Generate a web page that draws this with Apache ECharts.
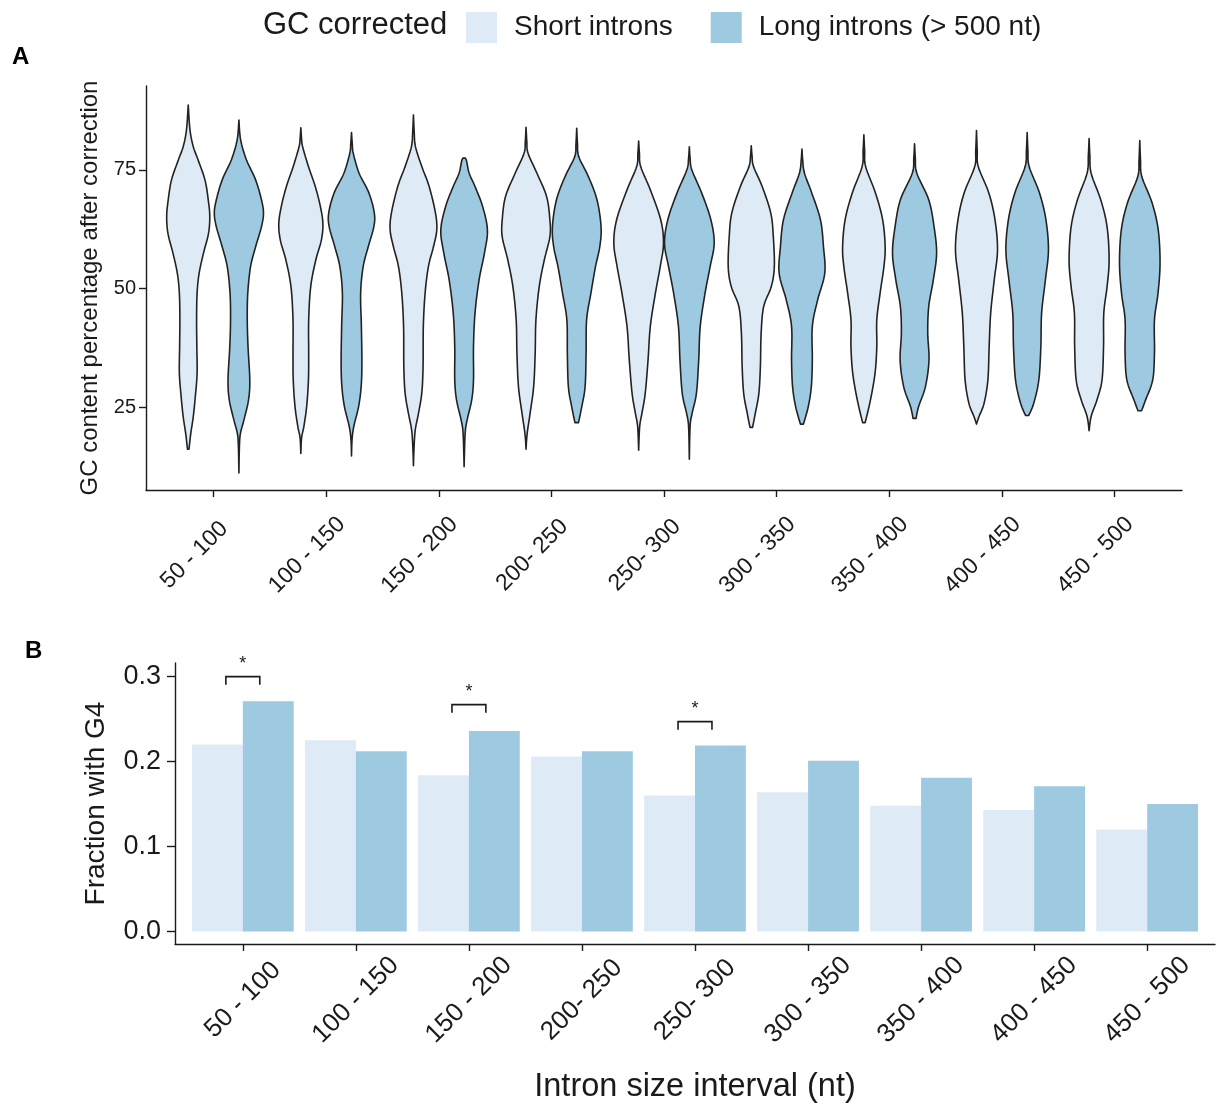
<!DOCTYPE html>
<html><head><meta charset="utf-8">
<script src="https://cdn.jsdelivr.net/npm/echarts@6/dist/echarts.min.js"></script>
<style>html,body{margin:0;padding:0;background:#fff}#c{width:1216px;height:1106px}</style>
</head><body><div id="c"></div>
<script>
// ---------- DATA ----------
const categories = ['50 - 100','100 - 150','150 - 200','200- 250','250- 300','300 - 350','350 - 400','400 - 450','450 - 500'];
const seriesNames = ['Short introns','Long introns (> 500 nt)'];
const gcTicks = [25, 50, 75];
const g4Ticks = [0, 0.1, 0.2, 0.3];

// Panel B: fraction with G4
const g4Short = [0.220, 0.225, 0.184, 0.206, 0.160, 0.164, 0.148, 0.143, 0.120];
const g4Long  = [0.271, 0.212, 0.236, 0.212, 0.219, 0.201, 0.181, 0.171, 0.150];

// significance brackets
const sigCategories = ['50 - 100', '150 - 200', '250- 300'];
const sigHeights = [0.300, 0.267, 0.247];
const sigLabels = ['*', '*', '*'];

// Panel A: violin profiles, [GC %, relative density (1 = full half-slot)] from top to bottom
const violinShort = [
  [[88.7,0],[83.4,0.07],[79.9,0.2],[77.1,0.39],[72.9,0.66],[68.7,0.79],[65.2,0.85],[61.6,0.8],[57.4,0.6],[53.2,0.43],[49,0.35],[43.4,0.33],[37.7,0.34],[32.1,0.35],[27.2,0.28],[23,0.2],[19.4,0.1],[16.1,0.03]],
  [[83.9,0],[81.5,0.03],[79.9,0.07],[75.7,0.3],[71.5,0.57],[67.3,0.77],[63.7,0.87],[60.2,0.81],[56,0.59],[50.4,0.39],[43.4,0.31],[36.3,0.31],[30.7,0.3],[25.1,0.23],[20.9,0.12],[18.5,0.03],[15.2,0]],
  [[86.6,0],[83,0.03],[79.9,0.08],[75.7,0.33],[71.5,0.62],[65.9,0.87],[62.3,0.92],[58.8,0.79],[54.6,0.59],[49,0.46],[42,0.39],[33.6,0.38],[28,0.33],[23.7,0.2],[20.1,0.07],[16,0.02],[12.6,0]],
  [[84,0],[81,0.03],[78.5,0.08],[74.3,0.43],[69.4,0.81],[64.5,0.94],[60.9,0.94],[56,0.72],[50.4,0.52],[43.4,0.39],[36.3,0.36],[29.3,0.3],[23.7,0.16],[20.1,0.06],[18,0.02],[16.1,0]],
  [[81.1,0],[78.5,0.03],[75.7,0.08],[70.8,0.46],[64.5,0.87],[59.5,0.98],[54.6,0.85],[49,0.66],[42,0.46],[34.9,0.37],[27.9,0.26],[23.7,0.13],[20.9,0.04],[15.9,0]],
  [[80.1,0],[78,0.03],[75.7,0.09],[71.5,0.43],[65.9,0.77],[60.9,0.87],[54.6,0.91],[50.4,0.79],[46.2,0.49],[40.6,0.39],[33.6,0.36],[27.9,0.3],[23.7,0.16],[20.7,0.05]],
  [[82.4,0],[79,0.03],[75.7,0.07],[70.1,0.46],[64.5,0.74],[58.8,0.84],[54.6,0.79],[49,0.64],[43.4,0.51],[37.7,0.51],[32.1,0.44],[26.5,0.26],[21.7,0.05]],
  [[83.3,0],[79,0.03],[75.7,0.07],[70.1,0.49],[64.5,0.73],[58.1,0.83],[51.8,0.7],[44.8,0.56],[37.7,0.5],[30.7,0.45],[25.8,0.3],[23,0.1],[21.4,0]],
  [[81.6,0],[78,0.03],[74.3,0.08],[68.7,0.46],[63,0.71],[56,0.79],[50.4,0.71],[44.8,0.58],[37.7,0.57],[30.7,0.51],[26.5,0.31],[23,0.08],[20,0]]
];
const violinLong = [
  [[85.5,0],[81.3,0.07],[77.1,0.3],[72.9,0.66],[68.7,0.89],[65.9,0.97],[63,0.89],[58.8,0.66],[54.6,0.46],[49,0.35],[43.4,0.33],[37.7,0.36],[30.7,0.43],[26.5,0.38],[22.3,0.2],[19.4,0.06],[16.6,0.02],[11.1,0]],
  [[82.9,0],[80.5,0.03],[78.5,0.07],[74.3,0.3],[70.1,0.69],[65.9,0.9],[63,0.88],[58.8,0.66],[54.6,0.46],[49,0.36],[42,0.39],[34.3,0.41],[29.3,0.38],[25.1,0.28],[20.9,0.09],[18,0.02],[14.7,0]],
  [[77.5,0.05],[76.8,0.1],[74.3,0.2],[71.5,0.43],[67.3,0.73],[62.3,0.92],[57.4,0.8],[51.8,0.59],[44.8,0.43],[37.7,0.37],[30.7,0.37],[26.5,0.3],[22.3,0.12],[19.4,0.04],[12.4,0]],
  [[83.8,0],[80.5,0.03],[77.8,0.08],[73.6,0.46],[68.7,0.8],[63,0.96],[58.8,0.91],[54.6,0.74],[49,0.56],[43.4,0.39],[36.3,0.37],[29.3,0.33],[25.1,0.2],[21.7,0.07]],
  [[79.9,0],[77.5,0.03],[75,0.1],[70.1,0.49],[64.5,0.85],[59.5,0.98],[54.6,0.82],[49,0.62],[42,0.43],[34.9,0.37],[27.9,0.28],[23.7,0.11],[20.9,0.03],[14,0]],
  [[79.4,0],[77,0.03],[74.3,0.1],[70.1,0.39],[64.5,0.73],[58.8,0.85],[53.2,0.9],[47.6,0.62],[42,0.41],[34.9,0.41],[29.3,0.37],[25.1,0.25],[21.4,0.06]],
  [[80.5,0],[77.5,0.03],[74.3,0.09],[68.7,0.56],[63,0.77],[57.4,0.87],[51.8,0.74],[46.2,0.56],[40.6,0.52],[34.9,0.57],[29.3,0.43],[25.1,0.16],[22.6,0.06]],
  [[82.9,0],[79,0.03],[75.7,0.08],[70.1,0.49],[64.5,0.74],[58.1,0.84],[51.8,0.72],[44.8,0.57],[37.7,0.54],[30.7,0.46],[25.8,0.26],[23.2,0.06]],
  [[81.2,0],[77,0.03],[73.6,0.08],[68,0.49],[62.3,0.73],[55.3,0.8],[49,0.72],[43.4,0.58],[36.3,0.58],[30.7,0.51],[26.5,0.23],[24.2,0.07]]
];

// ---------- STYLE ----------
const FONT = '"Liberation Sans", Arial, Helvetica, sans-serif';
const C_SHORT = '#deebf7';
const C_LONG_FILL = '#9ecae1';
const INK = '#1a1a1a';
const DODGE = 0.45;           // width of one dodged element in category units
const catPos = categories.map((c, i) => i + 1);

function catmull(pts, steps) {
  const out = [];
  const n = pts.length;
  for (let i = 0; i < n - 1; i++) {
    const p0 = pts[Math.max(i - 1, 0)], p1 = pts[i], p2 = pts[i + 1], p3 = pts[Math.min(i + 2, n - 1)];
    for (let s = 0; s < steps; s++) {
      const t = s / steps, t2 = t * t, t3 = t2 * t;
      const f = k => 0.5 * (2 * p1[k] + (-p0[k] + p2[k]) * t + (2 * p0[k] - 5 * p1[k] + 4 * p2[k] - p3[k]) * t2 + (-p0[k] + 3 * p1[k] - 3 * p2[k] + p3[k]) * t3);
      out.push([f(0), f(1)]);
    }
  }
  out.push(pts[n - 1]);
  return out;
}

function violinRenderer(profiles, side, fill) {
  return function (params, api) {
    const prof = profiles[params.dataIndex];
    const xc = api.value(0) + side * DODGE / 2;
    const cx = api.coord([xc, 50])[0];
    const half = DODGE / 2;
    const rightPts = prof.map(p => api.coord([xc + p[1] * half, p[0]]));
    const leftPts = prof.map(p => api.coord([xc - p[1] * half, p[0]]));
    let right = catmull(rightPts, 8).map(p => [Math.max(p[0], cx), p[1]]);
    let left = catmull(leftPts, 8).map(p => [Math.min(p[0], cx), p[1]]);
    if (prof[0][1] === 0) left = left.slice(1);
    if (prof[prof.length - 1][1] === 0) left = left.slice(0, left.length - 1);
    left.reverse();
    return {
      type: 'polygon',
      shape: { points: right.concat(left) },
      style: { fill: fill, stroke: '#222', lineWidth: 1.6, lineJoin: 'round' }
    };
  };
}

function barRenderer(side, fill) {
  return function (params, api) {
    const x = api.value(0), v = api.value(1);
    const x0 = side < 0 ? x - DODGE : x;
    const p1 = api.coord([x0, v]);
    const p2 = api.coord([x0 + DODGE, 0]);
    return { type: 'rect', shape: { x: p1[0], y: p1[1], width: p2[0] - p1[0], height: p2[1] - p1[1] }, style: { fill: fill } };
  };
}

function bracketRenderer(params, api) {
  const x = api.value(0), y = api.value(1);
  const a = api.coord([x - 0.15, y]);
  const b = api.coord([x + 0.15, y]);
  const leg = api.coord([x, y - 0.0095])[1];
  return {
    type: 'group',
    children: [
      { type: 'polyline', shape: { points: [[a[0], leg], [a[0], a[1]], [b[0], b[1]], [b[0], leg]] },
        style: { stroke: INK, lineWidth: 1.6, fill: null } },
      { type: 'text', x: (a[0] + b[0]) / 2, y: a[1] - 13,
        style: { text: sigLabels[params.dataIndex], fill: INK, fontSize: 18, fontFamily: FONT, align: 'center', verticalAlign: 'middle' } }
    ]
  };
}

const axisLineStyle = { color: INK, width: 1.4 };

const option = {
  animation: false,
  backgroundColor: '#fff',
  textStyle: { fontFamily: FONT },
  legend: {
    left: 466, top: 12, padding: 0,
    itemWidth: 31, itemHeight: 31, itemGap: 38,
    icon: 'rect', selectedMode: false,
    textStyle: { fontSize: 28, color: INK, fontFamily: FONT, padding: [0, 0, 0, 12] },
    data: [
      { name: seriesNames[0], itemStyle: { color: C_SHORT, borderWidth: 0 } },
      { name: seriesNames[1], itemStyle: { color: C_LONG_FILL, borderWidth: 0 } }
    ]
  },
  graphic: [
    { type: 'text', left: 263, top: 10, style: { text: 'GC corrected', fontSize: 31, fill: INK, fontFamily: FONT } },
    { type: 'text', left: 12, top: 45, style: { text: 'A', fontSize: 24, fontWeight: 'bold', fill: '#000', fontFamily: FONT } },
    { type: 'text', left: 25, top: 639, style: { text: 'B', fontSize: 24, fontWeight: 'bold', fill: '#000', fontFamily: FONT } }
  ],
  grid: [
    { left: 146, right: 34, top: 86, height: 404 },
    { left: 175, right: 1, top: 663, height: 281 }
  ],
  xAxis: [
    {
      gridIndex: 0, type: 'value', min: 0.4, max: 9.6,
      splitLine: { show: false },
      axisLine: { show: true, onZero: false, lineStyle: axisLineStyle },
      axisTick: { show: true, customValues: catPos, length: 7, lineStyle: axisLineStyle },
      axisLabel: {
        customValues: catPos, formatter: v => categories[Math.round(v) - 1],
        rotate: 45, fontSize: 23, color: INK, fontFamily: FONT,
        align: 'center', verticalAlign: 'middle', margin: 46, padding: [0, 54, 0, 0]
      }
    },
    {
      gridIndex: 1, type: 'value', min: 0.4, max: 9.6,
      name: 'Intron size interval (nt)', nameLocation: 'middle', nameGap: 143,
      nameTextStyle: { fontSize: 32.5, color: INK, fontFamily: FONT, verticalAlign: 'middle' },
      splitLine: { show: false },
      axisLine: { show: true, onZero: false, lineStyle: axisLineStyle },
      axisTick: { show: true, customValues: catPos, length: 7, lineStyle: axisLineStyle },
      axisLabel: {
        customValues: catPos, formatter: v => categories[Math.round(v) - 1],
        rotate: 45, fontSize: 26, color: INK, fontFamily: FONT,
        align: 'center', verticalAlign: 'middle', margin: 56
      }
    }
  ],
  yAxis: [
    {
      gridIndex: 0, type: 'value', min: 7.5, max: 92.7,
      name: 'GC content percentage after correction', nameLocation: 'middle', nameGap: 54, nameRotate: 90,
      nameTextStyle: { fontSize: 24, color: INK, fontFamily: FONT, verticalAlign: 'middle' },
      splitLine: { show: false },
      axisLine: { show: true, onZero: false, lineStyle: axisLineStyle },
      axisTick: { show: true, customValues: gcTicks, length: 7, lineStyle: axisLineStyle },
      axisLabel: { customValues: gcTicks, fontSize: 20, color: INK, fontFamily: FONT, margin: 10 }
    },
    {
      gridIndex: 1, type: 'value', min: -0.0147, max: 0.316,
      name: 'Fraction with G4', nameLocation: 'middle', nameGap: 79, nameRotate: 90,
      nameTextStyle: { fontSize: 28, color: INK, fontFamily: FONT, verticalAlign: 'middle' },
      splitLine: { show: false },
      axisLine: { show: true, onZero: false, lineStyle: axisLineStyle },
      axisTick: { show: true, customValues: g4Ticks, length: 8, lineStyle: axisLineStyle },
      axisLabel: { customValues: g4Ticks, formatter: v => v.toFixed(1), fontSize: 27, color: INK, fontFamily: FONT, margin: 14 }
    }
  ],
  series: [
    { type: 'custom', name: seriesNames[0], xAxisIndex: 0, yAxisIndex: 0, clip: false,
      itemStyle: { color: C_SHORT }, data: catPos.map(x => [x]), encode: { x: 0 },
      renderItem: violinRenderer(violinShort, -1, C_SHORT) },
    { type: 'custom', name: seriesNames[1], xAxisIndex: 0, yAxisIndex: 0, clip: false,
      itemStyle: { color: C_LONG_FILL }, data: catPos.map(x => [x]), encode: { x: 0 },
      renderItem: violinRenderer(violinLong, 1, C_LONG_FILL) },
    { type: 'custom', name: seriesNames[0], xAxisIndex: 1, yAxisIndex: 1,
      itemStyle: { color: C_SHORT }, data: g4Short.map((v, i) => [catPos[i], v]), encode: { x: 0, y: 1 },
      renderItem: barRenderer(-1, C_SHORT) },
    { type: 'custom', name: seriesNames[1], xAxisIndex: 1, yAxisIndex: 1,
      itemStyle: { color: C_LONG_FILL }, data: g4Long.map((v, i) => [catPos[i], v]), encode: { x: 0, y: 1 },
      renderItem: barRenderer(1, C_LONG_FILL) },
    { type: 'custom', name: 'significance', xAxisIndex: 1, yAxisIndex: 1, clip: false,
      data: sigCategories.map((c, k) => [categories.indexOf(c) + 1, sigHeights[k]]), encode: { x: 0, y: 1 },
      renderItem: bracketRenderer }
  ]
};

const chart = echarts.init(document.getElementById('c'), null, { renderer: 'canvas' });
chart.setOption(option);
</script>
</body></html>
